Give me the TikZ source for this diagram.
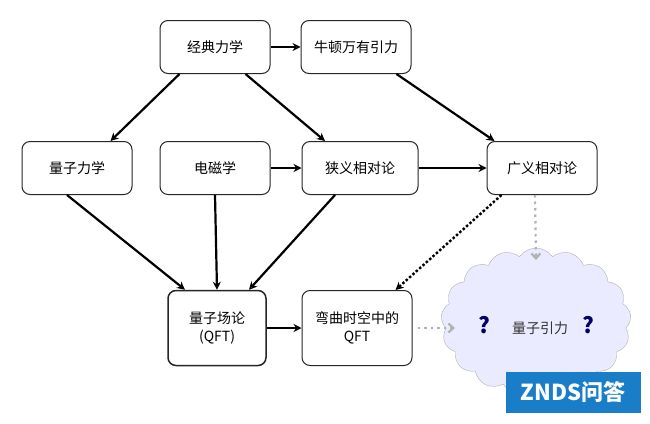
\documentclass[tikz,border=0pt]{standalone}
\usepackage{fontspec}
\setmainfont{Noto Sans CJK SC}
\usetikzlibrary{shapes.symbols,arrows.meta}
\begin{document}
\begin{tikzpicture}[x=1pt,y=-1pt,
 box/.style={draw=black!85,rounded corners=8pt,line width=1pt,minimum height=53pt,minimum width=110pt,font=\fontsize{14}{18}\selectfont,align=center,fill=white},
 arr/.style={-{Stealth[length=8pt,width=8pt,open]},line width=2.2pt},
 dotb/.style={-{Stealth[length=8pt,width=8pt,open]},line width=2.4pt,dash pattern=on 2.5pt off 2pt},
 dotg/.style={-{Straight Barb[length=5pt,width=9pt]},line width=2.2pt,draw=black!30,dash pattern=on 2.5pt off 4pt}]
\useasboundingbox (0,0) rectangle (650,423);
\fill[white] (0,0) rectangle (650,423);
\node[cloud,cloud puffs=17,cloud puff arc=110,draw=black!30,fill=blue!8!white,minimum width=190pt,minimum height=148pt,aspect=1.4] (cl) at (536,322) {};
\node (q) at (536,326) {\fontsize{22}{22}\selectfont\bfseries\color{blue!40!black}?\quad\color{black!80}\fontsize{14}{16}\selectfont\mdseries 量子引力\quad\fontsize{22}{22}\selectfont\bfseries\color{blue!40!black}?};
\node[box] (jd) at (215,47) {经典力学};
\node[box] (nd) at (356,47) {牛顿万有引力};
\node[box] (lz) at (77,168) {量子力学};
\node[box] (dc) at (215,168) {电磁学};
\node[box,minimum width=116pt] (xy) at (360,168) {狭义相对论};
\node[box] (gy) at (542,168) {广义相对论};
\node[box,minimum width=98pt,minimum height=75pt,line width=1.5pt] (qft) at (217,328) {量子场论\\(QFT)};
\node[box,minimum height=75pt] (wq) at (357,328) {弯曲时空中的\\QFT};
\node[fill={rgb,255:red,25;green,125;blue,200},minimum width=135pt,minimum height=41pt,text=white,font=\fontsize{22}{22}\selectfont\bfseries\itshape] (logo) at (573,392) {ZNDS问答};
\draw[arr] (jd) -- (nd);
\draw[arr] ([xshift=20pt]jd.south west) -- ([xshift=-22pt]lz.north east);
\draw[arr] ([xshift=-25pt]jd.south east) -- ([xshift=-35pt]xy.north);
\draw[arr] ([xshift=-15pt]nd.south east) -- ([xshift=8pt]gy.north west);
\draw[arr] ([xshift=-10pt]lz.south) -- ([xshift=-32pt]qft.north);
\draw[arr] (dc.south) -- (qft.north);
\draw[arr] ([xshift=-25pt]xy.south) -- ([xshift=32pt]qft.north);
\draw[arr] (dc) -- (xy);
\draw[arr] (xy) -- (gy);
\draw[arr] (qft) -- (wq);
\draw[dotb] ([xshift=15pt]gy.south west) -- ([xshift=-17pt]wq.north east);
\draw[dotg] ([xshift=-7pt]gy.south) -- (536,260);
\draw[dotg] ([xshift=5pt]wq.east) -- (455,328);
\end{tikzpicture}
\end{document}
